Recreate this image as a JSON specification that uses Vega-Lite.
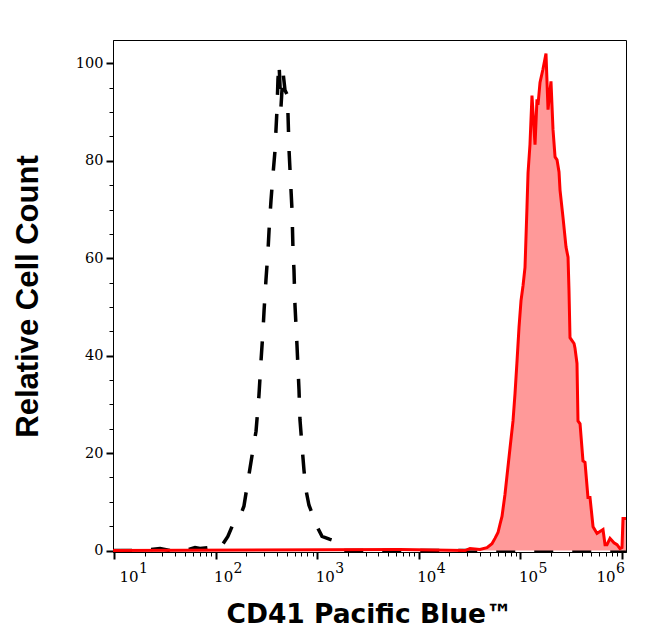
{
  "$schema": "https://vega.github.io/schema/vega-lite/v6.json",
  "width": 513,
  "height": 512,
  "autosize": {"type": "none"},
  "padding": {"left": 113, "top": 40, "right": 20, "bottom": 89},
  "background": "white",
  "config": {"view": {"stroke": "black", "strokeWidth": 1}, "axis": {"grid": false}},
  "datasets": {
    "control": [
      {"fluorescence": 9.8, "count": 0}, {"fluorescence": 18, "count": 0}, {"fluorescence": 28.4, "count": 0.4},
      {"fluorescence": 35.6, "count": 0}, {"fluorescence": 53.5, "count": 0.2}, {"fluorescence": 62.7, "count": 0.6},
      {"fluorescence": 70.2, "count": 0.4}, {"fluorescence": 84.1, "count": 0.6}, {"fluorescence": 96.4, "count": 0.8},
      {"fluorescence": 110, "count": 0.4}, {"fluorescence": 132, "count": 2.9}, {"fluorescence": 145, "count": 4.9},
      {"fluorescence": 174, "count": 7.0}, {"fluorescence": 190, "count": 9.1}, {"fluorescence": 208, "count": 14.2},
      {"fluorescence": 228, "count": 19.4}, {"fluorescence": 250, "count": 24.5}, {"fluorescence": 267, "count": 31.8},
      {"fluorescence": 280, "count": 39.0}, {"fluorescence": 293, "count": 45.2}, {"fluorescence": 300, "count": 49.3},
      {"fluorescence": 313, "count": 55.5}, {"fluorescence": 328, "count": 61.6}, {"fluorescence": 336, "count": 65.8},
      {"fluorescence": 351, "count": 71.9}, {"fluorescence": 367, "count": 77.1}, {"fluorescence": 385, "count": 82.3},
      {"fluorescence": 393, "count": 86.4}, {"fluorescence": 402, "count": 90.5}, {"fluorescence": 411, "count": 96.7},
      {"fluorescence": 421, "count": 100}, {"fluorescence": 440, "count": 91.0}, {"fluorescence": 461, "count": 98.2},
      {"fluorescence": 482, "count": 94.5}, {"fluorescence": 505, "count": 93.6}, {"fluorescence": 516, "count": 89.5},
      {"fluorescence": 528, "count": 82.3}, {"fluorescence": 540, "count": 78.1}, {"fluorescence": 565, "count": 69.9},
      {"fluorescence": 578, "count": 61.6}, {"fluorescence": 591, "count": 57.5}, {"fluorescence": 604, "count": 50.5},
      {"fluorescence": 632, "count": 42.3}, {"fluorescence": 662, "count": 33.0}, {"fluorescence": 677, "count": 26.8},
      {"fluorescence": 708, "count": 21.6}, {"fluorescence": 741, "count": 16.5}, {"fluorescence": 776, "count": 12.4},
      {"fluorescence": 830, "count": 9.3}, {"fluorescence": 909, "count": 7.2}, {"fluorescence": 1019, "count": 4.5},
      {"fluorescence": 1115, "count": 2.9}, {"fluorescence": 1337, "count": 2.3}, {"fluorescence": 1531, "count": 1.9},
      {"fluorescence": 1675, "count": 0}, {"fluorescence": 5000, "count": 0}, {"fluorescence": 50000, "count": 0},
      {"fluorescence": 500000, "count": 0}, {"fluorescence": 1094000, "count": 0}
    ],
    "stained": [
      {"fluorescence": 9.8, "count": 0}, {"fluorescence": 6531, "count": 0.2}, {"fluorescence": 28500, "count": 0},
      {"fluorescence": 31900, "count": 0.4}, {"fluorescence": 40000, "count": 0.2}, {"fluorescence": 46900, "count": 0.6},
      {"fluorescence": 52500, "count": 1.4}, {"fluorescence": 56200, "count": 2.5}, {"fluorescence": 60200, "count": 3.7},
      {"fluorescence": 63000, "count": 5.4}, {"fluorescence": 65900, "count": 7.0}, {"fluorescence": 70500, "count": 11.5},
      {"fluorescence": 79000, "count": 21.0}, {"fluorescence": 84600, "count": 26.6}, {"fluorescence": 88500, "count": 32.2},
      {"fluorescence": 92700, "count": 39.0}, {"fluorescence": 96900, "count": 45.8}, {"fluorescence": 101400, "count": 51.3},
      {"fluorescence": 106200, "count": 54.4}, {"fluorescence": 111000, "count": 58.1}, {"fluorescence": 116100, "count": 70.5},
      {"fluorescence": 118900, "count": 77.5}, {"fluorescence": 124200, "count": 83.3}, {"fluorescence": 130000, "count": 93.4},
      {"fluorescence": 139300, "count": 83.3}, {"fluorescence": 145600, "count": 92.6}, {"fluorescence": 149000, "count": 91.5},
      {"fluorescence": 156000, "count": 96.1}, {"fluorescence": 166700, "count": 98.8}, {"fluorescence": 178600, "count": 102.0},
      {"fluorescence": 187000, "count": 90.5}, {"fluorescence": 200000, "count": 96.3}, {"fluorescence": 209400, "count": 86.4},
      {"fluorescence": 219300, "count": 80.8}, {"fluorescence": 229300, "count": 80.2}, {"fluorescence": 239900, "count": 77.7},
      {"fluorescence": 245500, "count": 74.0}, {"fluorescence": 262600, "count": 68.4}, {"fluorescence": 281200, "count": 62.3},
      {"fluorescence": 294400, "count": 60.2}, {"fluorescence": 300800, "count": 53.4}, {"fluorescence": 307800, "count": 43.7},
      {"fluorescence": 322200, "count": 43.1}, {"fluorescence": 337300, "count": 42.5}, {"fluorescence": 344400, "count": 41.6},
      {"fluorescence": 360600, "count": 38.4}, {"fluorescence": 368900, "count": 26.6}, {"fluorescence": 386400, "count": 26.0},
      {"fluorescence": 413000, "count": 18.4}, {"fluorescence": 432500, "count": 18.1}, {"fluorescence": 462400, "count": 10.9},
      {"fluorescence": 484200, "count": 10.9}, {"fluorescence": 518800, "count": 4.9}, {"fluorescence": 567500, "count": 3.5},
      {"fluorescence": 606800, "count": 3.9}, {"fluorescence": 650200, "count": 4.3}, {"fluorescence": 680800, "count": 1.2},
      {"fluorescence": 711200, "count": 1.2}, {"fluorescence": 762100, "count": 2.5}, {"fluorescence": 833700, "count": 1.6},
      {"fluorescence": 893300, "count": 1.2}, {"fluorescence": 955000, "count": 0.4}, {"fluorescence": 1000000, "count": 0.6},
      {"fluorescence": 1023000, "count": 6.6}, {"fluorescence": 1094000, "count": 6.6}
    ]
  },
  "layer": [
    {
      "data": {"name": "control"},
      "mark": {"type": "line", "color": "black", "strokeWidth": 3.5, "strokeDash": [19, 19], "strokeCap": "butt"},
      "encoding": {
        "x": {
          "field": "fluorescence", "type": "quantitative",
          "scale": {"type": "log", "domain": [9.776, 1094900], "nice": false},
          "axis": {
            "orient": "bottom",
            "values": [20, 30, 40, 50, 60, 70, 80, 90, 200, 300, 400, 500, 600, 700, 800, 900,
                       2000, 3000, 4000, 5000, 6000, 7000, 8000, 9000, 20000, 30000, 40000, 50000, 60000, 70000, 80000, 90000,
                       200000, 300000, 400000, 500000, 600000, 700000, 800000, 900000],
            "tickSize": 4, "tickWidth": 1, "tickColor": "black", "labels": false, "domain": false,
            "title": null, "grid": false
          }
        },
        "y": {
          "field": "count", "type": "quantitative",
          "scale": {"domain": [-0.3, 104.8], "nice": false, "zero": false},
          "axis": {
            "orient": "left",
            "values": [5, 10, 15, 25, 30, 35, 45, 50, 55, 65, 70, 75, 85, 90, 95],
            "tickSize": 4, "tickWidth": 1, "tickColor": "black", "labels": false, "domain": false,
            "title": null, "grid": false
          }
        }
      }
    },
    {
      "data": {"name": "stained"},
      "mark": {"type": "area", "color": "#ff9999", "opacity": 1},
      "encoding": {
        "x": {
          "field": "fluorescence", "type": "quantitative",
          "axis": {
            "orient": "bottom", "values": [10, 100, 1000, 10000, 100000, 1000000],
            "tickSize": 7, "tickWidth": 2, "tickColor": "black",
            "domain": true, "domainColor": "black", "domainWidth": 1,
            "labelExpr": "'10'", "labelFont": "DejaVu Serif", "labelFontSize": 15, "labelColor": "black",
            "labelAlign": "left", "labelBaseline": "alphabetic", "labelPadding": 22,
            "labelFlush": false, "labelOverlap": false,
            "labelOffset": {"condition": [{"test": "datum.value < 20", "value": 5}, {"test": "datum.value > 500000", "value": -26}], "value": -2},
            "title": null, "grid": false
          }
        },
        "y": {
          "field": "count", "type": "quantitative",
          "axis": {
            "orient": "left", "values": [0, 20, 40, 60, 80, 100],
            "tickSize": 7, "tickWidth": 2, "tickColor": "black",
            "domain": true, "domainColor": "black", "domainWidth": 1,
            "labelFont": "DejaVu Serif", "labelFontSize": 14.5, "labelColor": "black",
            "labelPadding": 3, "labelFlush": false, "labelOverlap": false, "labelBaseline": "middle",
            "title": "Relative Cell Count", "titleFont": "Liberation Sans", "titleFontSize": 31,
            "titleFontWeight": "bold", "titleColor": "black", "titleAngle": 270,
            "titleBaseline": "alphabetic", "titleAlign": "center", "titleX": -76, "titleY": 256,
            "grid": false
          }
        }
      }
    },
    {
      "data": {"name": "stained"},
      "mark": {"type": "line", "color": "#ff0000", "strokeWidth": 3},
      "encoding": {
        "x": {
          "field": "fluorescence", "type": "quantitative",
          "axis": {
            "orient": "bottom", "values": [10, 100, 1000, 10000, 100000, 1000000],
            "ticks": false, "tickSize": 0, "domain": false,
            "labelExpr": "format(log(datum.value)/LN10, '.0f')", "labelFont": "DejaVu Serif", "labelFontSize": 14,
            "labelColor": "black", "labelAlign": "left", "labelBaseline": "alphabetic", "labelPadding": 20,
            "labelFlush": false, "labelOverlap": false,
            "labelOffset": {"condition": [{"test": "datum.value < 20", "value": 24.5}, {"test": "datum.value > 500000", "value": -6.5}], "value": 17.5},
            "title": "CD41 Pacific Blue™", "titleFont": "DejaVu Sans", "titleFontSize": 26.5,
            "titleFontWeight": "bold", "titleColor": "black", "titleBaseline": "alphabetic",
            "titleAlign": "center", "titleX": 256, "titleY": 70, "grid": false
          }
        },
        "y": {"field": "count", "type": "quantitative", "axis": null}
      }
    }
  ],
  "resolve": {"axis": {"x": "independent", "y": "independent"}}
}
